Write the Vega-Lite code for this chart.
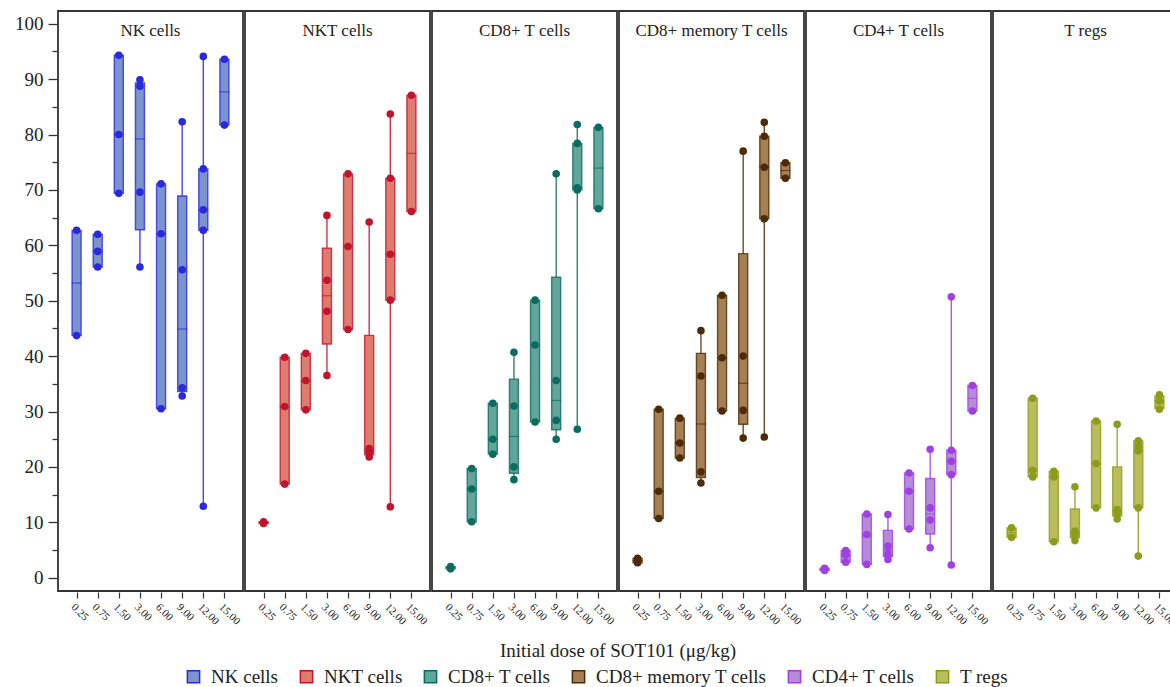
{
  "$schema": "https://vega.github.io/schema/vega-lite/v6.json",
  "background": "white",
  "padding": {"left": 14, "top": 10, "right": 0, "bottom": 0},
  "data": {"values": [
    {"c":"NK cells","d":"0.25","k":"b","lo":43.7,"q1":43.7,"md":53.2,"q3":62.7,"hi":62.7},
    {"c":"NK cells","d":"0.75","k":"b","lo":56.1,"q1":56.1,"md":58.9,"q3":62.0,"hi":62.0},
    {"c":"NK cells","d":"1.50","k":"b","lo":69.4,"q1":69.4,"md":80.0,"q3":94.3,"hi":94.3},
    {"c":"NK cells","d":"3.00","k":"b","lo":56.1,"q1":62.8,"md":79.2,"q3":89.3,"hi":89.9},
    {"c":"NK cells","d":"6.00","k":"b","lo":30.5,"q1":30.5,"md":62.1,"q3":71.1,"hi":71.1},
    {"c":"NK cells","d":"9.00","k":"b","lo":32.8,"q1":33.6,"md":44.9,"q3":68.9,"hi":82.3},
    {"c":"NK cells","d":"12.00","k":"b","lo":12.9,"q1":62.7,"md":66.4,"q3":73.8,"hi":94.1},
    {"c":"NK cells","d":"15.00","k":"b","lo":81.7,"q1":81.7,"md":87.7,"q3":93.6,"hi":93.6},
    {"c":"NKT cells","d":"0.25","k":"b","lo":9.8,"q1":9.8,"md":9.95,"q3":10.1,"hi":10.1},
    {"c":"NKT cells","d":"0.75","k":"b","lo":16.9,"q1":16.9,"md":30.9,"q3":39.8,"hi":39.8},
    {"c":"NKT cells","d":"1.50","k":"b","lo":30.3,"q1":30.3,"md":35.6,"q3":40.5,"hi":40.5},
    {"c":"NKT cells","d":"3.00","k":"b","lo":36.5,"q1":42.2,"md":50.9,"q3":59.5,"hi":65.4},
    {"c":"NKT cells","d":"6.00","k":"b","lo":44.8,"q1":44.8,"md":59.8,"q3":72.9,"hi":72.9},
    {"c":"NKT cells","d":"9.00","k":"b","lo":21.8,"q1":22.2,"md":22.95,"q3":43.75,"hi":64.2},
    {"c":"NKT cells","d":"12.00","k":"b","lo":12.8,"q1":50.1,"md":58.4,"q3":72.1,"hi":83.7},
    {"c":"NKT cells","d":"15.00","k":"b","lo":66.1,"q1":66.1,"md":76.6,"q3":87.1,"hi":87.1},
    {"c":"CD8+ T cells","d":"0.25","k":"b","lo":1.6,"q1":1.6,"md":1.8,"q3":2.0,"hi":2.0},
    {"c":"CD8+ T cells","d":"0.75","k":"b","lo":10.1,"q1":10.1,"md":16.0,"q3":19.7,"hi":19.7},
    {"c":"CD8+ T cells","d":"1.50","k":"b","lo":22.3,"q1":22.3,"md":25.0,"q3":31.5,"hi":31.5},
    {"c":"CD8+ T cells","d":"3.00","k":"b","lo":17.7,"q1":18.85,"md":25.5,"q3":35.85,"hi":40.7},
    {"c":"CD8+ T cells","d":"6.00","k":"b","lo":28.1,"q1":28.1,"md":42.0,"q3":50.1,"hi":50.1},
    {"c":"CD8+ T cells","d":"9.00","k":"b","lo":25.0,"q1":26.7,"md":32.0,"q3":54.25,"hi":72.9},
    {"c":"CD8+ T cells","d":"12.00","k":"b","lo":26.8,"q1":70.0,"md":70.4,"q3":78.4,"hi":81.8},
    {"c":"CD8+ T cells","d":"15.00","k":"b","lo":66.6,"q1":66.6,"md":73.95,"q3":81.3,"hi":81.3},
    {"c":"CD8+ memory T cells","d":"0.25","k":"b","lo":2.7,"q1":2.7,"md":3.1,"q3":3.5,"hi":3.5},
    {"c":"CD8+ memory T cells","d":"0.75","k":"b","lo":10.7,"q1":10.7,"md":15.6,"q3":30.4,"hi":30.4},
    {"c":"CD8+ memory T cells","d":"1.50","k":"b","lo":21.6,"q1":21.6,"md":24.3,"q3":28.8,"hi":28.8},
    {"c":"CD8+ memory T cells","d":"3.00","k":"b","lo":17.1,"q1":18.1,"md":27.75,"q3":40.5,"hi":44.6},
    {"c":"CD8+ memory T cells","d":"6.00","k":"b","lo":30.1,"q1":30.1,"md":39.7,"q3":51.0,"hi":51.0},
    {"c":"CD8+ memory T cells","d":"9.00","k":"b","lo":25.2,"q1":27.7,"md":35.1,"q3":58.5,"hi":77.0},
    {"c":"CD8+ memory T cells","d":"12.00","k":"b","lo":25.4,"q1":64.8,"md":74.1,"q3":79.7,"hi":82.2},
    {"c":"CD8+ memory T cells","d":"15.00","k":"b","lo":72.1,"q1":72.1,"md":73.5,"q3":74.9,"hi":74.9},
    {"c":"CD4+ T cells","d":"0.25","k":"b","lo":1.3,"q1":1.3,"md":1.5,"q3":1.7,"hi":1.7},
    {"c":"CD4+ T cells","d":"0.75","k":"b","lo":2.8,"q1":2.8,"md":4.1,"q3":4.9,"hi":4.9},
    {"c":"CD4+ T cells","d":"1.50","k":"b","lo":2.4,"q1":2.4,"md":7.8,"q3":11.5,"hi":11.5},
    {"c":"CD4+ T cells","d":"3.00","k":"b","lo":3.3,"q1":3.8,"md":5.0,"q3":8.55,"hi":11.4},
    {"c":"CD4+ T cells","d":"6.00","k":"b","lo":8.8,"q1":8.8,"md":15.6,"q3":18.9,"hi":18.9},
    {"c":"CD4+ T cells","d":"9.00","k":"b","lo":5.4,"q1":7.9,"md":11.5,"q3":17.9,"hi":23.2},
    {"c":"CD4+ T cells","d":"12.00","k":"b","lo":2.3,"q1":18.6,"md":21.0,"q3":23.0,"hi":50.7},
    {"c":"CD4+ T cells","d":"15.00","k":"b","lo":30.1,"q1":30.1,"md":32.4,"q3":34.7,"hi":34.7},
    {"c":"T regs","d":"0.25","k":"b","lo":7.3,"q1":7.3,"md":8.15,"q3":9.0,"hi":9.0},
    {"c":"T regs","d":"0.75","k":"b","lo":18.2,"q1":18.2,"md":19.4,"q3":32.4,"hi":32.4},
    {"c":"T regs","d":"1.50","k":"b","lo":6.5,"q1":6.5,"md":18.2,"q3":19.2,"hi":19.2},
    {"c":"T regs","d":"3.00","k":"b","lo":6.7,"q1":7.2,"md":8.05,"q3":12.4,"hi":16.4},
    {"c":"T regs","d":"6.00","k":"b","lo":12.6,"q1":12.6,"md":20.6,"q3":28.3,"hi":28.3},
    {"c":"T regs","d":"9.00","k":"b","lo":10.6,"q1":11.15,"md":12.0,"q3":20.0,"hi":27.7},
    {"c":"T regs","d":"12.00","k":"b","lo":3.9,"q1":12.6,"md":22.9,"q3":24.7,"hi":24.7},
    {"c":"T regs","d":"15.00","k":"b","lo":30.4,"q1":30.6,"md":31.9,"q3":32.8,"hi":33.0},

    {"c":"NK cells","d":"0.25","k":"p","v":62.7},{"c":"NK cells","d":"0.25","k":"p","v":43.7},
    {"c":"NK cells","d":"0.75","k":"p","v":62.0},{"c":"NK cells","d":"0.75","k":"p","v":58.9},{"c":"NK cells","d":"0.75","k":"p","v":56.1},
    {"c":"NK cells","d":"1.50","k":"p","v":94.3},{"c":"NK cells","d":"1.50","k":"p","v":80.0},{"c":"NK cells","d":"1.50","k":"p","v":69.4},
    {"c":"NK cells","d":"3.00","k":"p","v":89.9},{"c":"NK cells","d":"3.00","k":"p","v":88.7},{"c":"NK cells","d":"3.00","k":"p","v":69.6},{"c":"NK cells","d":"3.00","k":"p","v":56.1},
    {"c":"NK cells","d":"6.00","k":"p","v":71.1},{"c":"NK cells","d":"6.00","k":"p","v":62.1},{"c":"NK cells","d":"6.00","k":"p","v":30.5},
    {"c":"NK cells","d":"9.00","k":"p","v":82.3},{"c":"NK cells","d":"9.00","k":"p","v":55.6},{"c":"NK cells","d":"9.00","k":"p","v":34.3},{"c":"NK cells","d":"9.00","k":"p","v":32.8},
    {"c":"NK cells","d":"12.00","k":"p","v":94.1},{"c":"NK cells","d":"12.00","k":"p","v":73.8},{"c":"NK cells","d":"12.00","k":"p","v":66.4},{"c":"NK cells","d":"12.00","k":"p","v":62.7},{"c":"NK cells","d":"12.00","k":"p","v":12.9},
    {"c":"NK cells","d":"15.00","k":"p","v":93.6},{"c":"NK cells","d":"15.00","k":"p","v":81.7},

    {"c":"NKT cells","d":"0.25","k":"p","v":10.1},{"c":"NKT cells","d":"0.25","k":"p","v":9.8},
    {"c":"NKT cells","d":"0.75","k":"p","v":39.8},{"c":"NKT cells","d":"0.75","k":"p","v":30.9},{"c":"NKT cells","d":"0.75","k":"p","v":16.9},
    {"c":"NKT cells","d":"1.50","k":"p","v":40.5},{"c":"NKT cells","d":"1.50","k":"p","v":35.6},{"c":"NKT cells","d":"1.50","k":"p","v":30.3},
    {"c":"NKT cells","d":"3.00","k":"p","v":65.4},{"c":"NKT cells","d":"3.00","k":"p","v":53.7},{"c":"NKT cells","d":"3.00","k":"p","v":48.1},{"c":"NKT cells","d":"3.00","k":"p","v":36.5},
    {"c":"NKT cells","d":"6.00","k":"p","v":72.9},{"c":"NKT cells","d":"6.00","k":"p","v":59.8},{"c":"NKT cells","d":"6.00","k":"p","v":44.8},
    {"c":"NKT cells","d":"9.00","k":"p","v":64.2},{"c":"NKT cells","d":"9.00","k":"p","v":23.3},{"c":"NKT cells","d":"9.00","k":"p","v":22.6},{"c":"NKT cells","d":"9.00","k":"p","v":21.8},
    {"c":"NKT cells","d":"12.00","k":"p","v":83.7},{"c":"NKT cells","d":"12.00","k":"p","v":72.1},{"c":"NKT cells","d":"12.00","k":"p","v":58.4},{"c":"NKT cells","d":"12.00","k":"p","v":50.1},{"c":"NKT cells","d":"12.00","k":"p","v":12.8},
    {"c":"NKT cells","d":"15.00","k":"p","v":87.1},{"c":"NKT cells","d":"15.00","k":"p","v":66.1},

    {"c":"CD8+ T cells","d":"0.25","k":"p","v":2.0},{"c":"CD8+ T cells","d":"0.25","k":"p","v":1.6},
    {"c":"CD8+ T cells","d":"0.75","k":"p","v":19.7},{"c":"CD8+ T cells","d":"0.75","k":"p","v":16.0},{"c":"CD8+ T cells","d":"0.75","k":"p","v":10.1},
    {"c":"CD8+ T cells","d":"1.50","k":"p","v":31.5},{"c":"CD8+ T cells","d":"1.50","k":"p","v":25.0},{"c":"CD8+ T cells","d":"1.50","k":"p","v":22.3},
    {"c":"CD8+ T cells","d":"3.00","k":"p","v":40.7},{"c":"CD8+ T cells","d":"3.00","k":"p","v":31.0},{"c":"CD8+ T cells","d":"3.00","k":"p","v":20.0},{"c":"CD8+ T cells","d":"3.00","k":"p","v":17.7},
    {"c":"CD8+ T cells","d":"6.00","k":"p","v":50.1},{"c":"CD8+ T cells","d":"6.00","k":"p","v":42.0},{"c":"CD8+ T cells","d":"6.00","k":"p","v":28.1},
    {"c":"CD8+ T cells","d":"9.00","k":"p","v":72.9},{"c":"CD8+ T cells","d":"9.00","k":"p","v":35.6},{"c":"CD8+ T cells","d":"9.00","k":"p","v":28.4},{"c":"CD8+ T cells","d":"9.00","k":"p","v":25.0},
    {"c":"CD8+ T cells","d":"12.00","k":"p","v":81.8},{"c":"CD8+ T cells","d":"12.00","k":"p","v":78.4},{"c":"CD8+ T cells","d":"12.00","k":"p","v":70.4},{"c":"CD8+ T cells","d":"12.00","k":"p","v":70.0},{"c":"CD8+ T cells","d":"12.00","k":"p","v":26.8},
    {"c":"CD8+ T cells","d":"15.00","k":"p","v":81.3},{"c":"CD8+ T cells","d":"15.00","k":"p","v":66.6},

    {"c":"CD8+ memory T cells","d":"0.25","k":"p","v":3.5},{"c":"CD8+ memory T cells","d":"0.25","k":"p","v":2.7},
    {"c":"CD8+ memory T cells","d":"0.75","k":"p","v":30.4},{"c":"CD8+ memory T cells","d":"0.75","k":"p","v":15.6},{"c":"CD8+ memory T cells","d":"0.75","k":"p","v":10.7},
    {"c":"CD8+ memory T cells","d":"1.50","k":"p","v":28.8},{"c":"CD8+ memory T cells","d":"1.50","k":"p","v":24.3},{"c":"CD8+ memory T cells","d":"1.50","k":"p","v":21.6},
    {"c":"CD8+ memory T cells","d":"3.00","k":"p","v":44.6},{"c":"CD8+ memory T cells","d":"3.00","k":"p","v":36.4},{"c":"CD8+ memory T cells","d":"3.00","k":"p","v":19.1},{"c":"CD8+ memory T cells","d":"3.00","k":"p","v":17.1},
    {"c":"CD8+ memory T cells","d":"6.00","k":"p","v":51.0},{"c":"CD8+ memory T cells","d":"6.00","k":"p","v":39.7},{"c":"CD8+ memory T cells","d":"6.00","k":"p","v":30.1},
    {"c":"CD8+ memory T cells","d":"9.00","k":"p","v":77.0},{"c":"CD8+ memory T cells","d":"9.00","k":"p","v":40.0},{"c":"CD8+ memory T cells","d":"9.00","k":"p","v":30.2},{"c":"CD8+ memory T cells","d":"9.00","k":"p","v":25.2},
    {"c":"CD8+ memory T cells","d":"12.00","k":"p","v":82.2},{"c":"CD8+ memory T cells","d":"12.00","k":"p","v":79.7},{"c":"CD8+ memory T cells","d":"12.00","k":"p","v":74.1},{"c":"CD8+ memory T cells","d":"12.00","k":"p","v":64.8},{"c":"CD8+ memory T cells","d":"12.00","k":"p","v":25.4},
    {"c":"CD8+ memory T cells","d":"15.00","k":"p","v":74.9},{"c":"CD8+ memory T cells","d":"15.00","k":"p","v":72.1},

    {"c":"CD4+ T cells","d":"0.25","k":"p","v":1.7},{"c":"CD4+ T cells","d":"0.25","k":"p","v":1.3},
    {"c":"CD4+ T cells","d":"0.75","k":"p","v":4.9},{"c":"CD4+ T cells","d":"0.75","k":"p","v":4.1},{"c":"CD4+ T cells","d":"0.75","k":"p","v":2.8},
    {"c":"CD4+ T cells","d":"1.50","k":"p","v":11.5},{"c":"CD4+ T cells","d":"1.50","k":"p","v":7.8},{"c":"CD4+ T cells","d":"1.50","k":"p","v":2.4},
    {"c":"CD4+ T cells","d":"3.00","k":"p","v":11.4},{"c":"CD4+ T cells","d":"3.00","k":"p","v":5.7},{"c":"CD4+ T cells","d":"3.00","k":"p","v":4.3},{"c":"CD4+ T cells","d":"3.00","k":"p","v":3.3},
    {"c":"CD4+ T cells","d":"6.00","k":"p","v":18.9},{"c":"CD4+ T cells","d":"6.00","k":"p","v":15.6},{"c":"CD4+ T cells","d":"6.00","k":"p","v":8.8},
    {"c":"CD4+ T cells","d":"9.00","k":"p","v":23.2},{"c":"CD4+ T cells","d":"9.00","k":"p","v":12.6},{"c":"CD4+ T cells","d":"9.00","k":"p","v":10.4},{"c":"CD4+ T cells","d":"9.00","k":"p","v":5.4},
    {"c":"CD4+ T cells","d":"12.00","k":"p","v":50.7},{"c":"CD4+ T cells","d":"12.00","k":"p","v":23.0},{"c":"CD4+ T cells","d":"12.00","k":"p","v":21.0},{"c":"CD4+ T cells","d":"12.00","k":"p","v":18.6},{"c":"CD4+ T cells","d":"12.00","k":"p","v":2.3},
    {"c":"CD4+ T cells","d":"15.00","k":"p","v":34.7},{"c":"CD4+ T cells","d":"15.00","k":"p","v":30.1},

    {"c":"T regs","d":"0.25","k":"p","v":9.0},{"c":"T regs","d":"0.25","k":"p","v":7.3},
    {"c":"T regs","d":"0.75","k":"p","v":32.4},{"c":"T regs","d":"0.75","k":"p","v":19.4},{"c":"T regs","d":"0.75","k":"p","v":18.2},
    {"c":"T regs","d":"1.50","k":"p","v":19.2},{"c":"T regs","d":"1.50","k":"p","v":18.2},{"c":"T regs","d":"1.50","k":"p","v":6.5},
    {"c":"T regs","d":"3.00","k":"p","v":16.4},{"c":"T regs","d":"3.00","k":"p","v":8.4},{"c":"T regs","d":"3.00","k":"p","v":7.7},{"c":"T regs","d":"3.00","k":"p","v":6.7},
    {"c":"T regs","d":"6.00","k":"p","v":28.3},{"c":"T regs","d":"6.00","k":"p","v":20.6},{"c":"T regs","d":"6.00","k":"p","v":12.6},
    {"c":"T regs","d":"9.00","k":"p","v":27.7},{"c":"T regs","d":"9.00","k":"p","v":12.3},{"c":"T regs","d":"9.00","k":"p","v":11.7},{"c":"T regs","d":"9.00","k":"p","v":10.6},
    {"c":"T regs","d":"12.00","k":"p","v":24.7},{"c":"T regs","d":"12.00","k":"p","v":23.8},{"c":"T regs","d":"12.00","k":"p","v":22.9},{"c":"T regs","d":"12.00","k":"p","v":12.6},{"c":"T regs","d":"12.00","k":"p","v":3.9},
    {"c":"T regs","d":"15.00","k":"p","v":33.0},{"c":"T regs","d":"15.00","k":"p","v":31.9},{"c":"T regs","d":"15.00","k":"p","v":30.4}
  ]},
  "facet": {
    "column": {
      "field": "c", "type": "nominal",
      "sort": ["NK cells","NKT cells","CD8+ T cells","CD8+ memory T cells","CD4+ T cells","T regs"],
      "title": "Initial dose of SOT101 (μg/kg)",
      "header": {
        "titleOrient": "bottom", "labelOrient": "top", "labelPadding": -30,
        "labelFont": "Liberation Serif", "labelFontSize": 17, "labelColor": "#222",
        "titleFont": "Liberation Serif", "titleFontSize": 19, "titleFontWeight": "normal", "titleColor": "#222", "titlePadding": 5
      }
    }
  },
  "spacing": 0,
  "spec": {
    "width": 185,
    "height": 580,
    "encoding": {
      "x": {
        "field": "d", "type": "ordinal",
        "sort": ["0.25","0.75","1.50","3.00","6.00","9.00","12.00","15.00"],
        "scale": {"type": "point", "padding": 0.88},
        "axis": {"title": null, "labelAngle": 45, "labelFontSize": 11, "labelFont": "Liberation Serif", "labelColor": "#222", "tickSize": 6, "tickColor": "#333", "tickWidth": 1.2, "domain": false, "labelPadding": 3}
      },
      "stroke": {"field": "c", "type": "nominal",
        "scale": {"domain": ["NK cells","NKT cells","CD8+ T cells","CD8+ memory T cells","CD4+ T cells","T regs"],
          "range": ["#2828DE","#C1142C","#0A6C5E","#4E2A04","#9E40E2","#8C9C1A"]}}
    },
    "layer": [
      {
        "transform": [{"filter": "datum.k === 'b'"}],
        "mark": {"type": "rule", "strokeWidth": 1.4, "strokeOpacity": 0.85},
        "encoding": {
          "y": {"field": "lo", "type": "quantitative",
            "scale": {"domain": [-2.4, 102.3], "nice": false, "zero": false},
            "axis": {"title": null, "values": [0,5,10,15,20,25,30,35,40,45,50,55,60,65,70,75,80,85,90,95,100],
              "labelExpr": "datum.value % 10 === 0 ? datum.label : ''",
              "tickSize": 9,
              "tickDash": {"condition": {"test": "datum.value % 10 !== 0", "value": [5, 100]}, "value": [20, 0]},
              "tickColor": "#333", "tickWidth": 1.3, "domain": false, "grid": false,
              "labelFont": "Liberation Serif", "labelFontSize": 19, "labelColor": "#222", "labelPadding": 5}},
          "y2": {"field": "hi"}
        }
      },
      {
        "transform": [{"filter": "datum.k === 'b'"}],
        "mark": {"type": "bar", "size": 9, "strokeWidth": 1.4, "strokeOpacity": 0.8},
        "encoding": {
          "y": {"field": "q1", "type": "quantitative",
            "axis": {"title": null, "values": [0,5,10,15,20,25,30,35,40,45,50,55,60,65,70,75,80,85,90,95,100],
              "labelExpr": "datum.value % 10 === 0 ? datum.label : ''",
              "tickSize": 9,
              "tickDash": {"condition": {"test": "datum.value % 10 !== 0", "value": [5, 100]}, "value": [20, 0]},
              "tickColor": "#333", "tickWidth": 1.3, "domain": false, "grid": false,
              "labelFont": "Liberation Serif", "labelFontSize": 19, "labelColor": "#222", "labelPadding": 5}},
          "y2": {"field": "q3"},
          "fill": {"field": "c", "type": "nominal",
            "scale": {"domain": ["NK cells","NKT cells","CD8+ T cells","CD8+ memory T cells","CD4+ T cells","T regs"],
              "range": ["#7C94CD","#E07C6D","#62A59B","#A67F53","#B68CD6","#B9BD5B"]}}
        }
      },
      {
        "transform": [{"filter": "datum.k === 'b'"}],
        "mark": {"type": "tick", "size": 9, "thickness": 0.1, "filled": false, "strokeWidth": 1.1},
        "encoding": {
          "y": {"field": "md", "type": "quantitative",
            "axis": {"title": null, "values": [0,5,10,15,20,25,30,35,40,45,50,55,60,65,70,75,80,85,90,95,100],
              "labelExpr": "datum.value % 10 === 0 ? datum.label : ''",
              "tickSize": 9,
              "tickDash": {"condition": {"test": "datum.value % 10 !== 0", "value": [5, 100]}, "value": [20, 0]},
              "tickColor": "#333", "tickWidth": 1.3, "domain": false, "grid": false,
              "labelFont": "Liberation Serif", "labelFontSize": 19, "labelColor": "#222", "labelPadding": 5}}
        }
      },
      {
        "transform": [{"filter": "datum.k === 'p'"}],
        "mark": {"type": "circle", "size": 13, "filled": false, "strokeWidth": 4, "opacity": 1},
        "encoding": {
          "y": {"field": "v", "type": "quantitative",
            "axis": {"title": null, "values": [0,5,10,15,20,25,30,35,40,45,50,55,60,65,70,75,80,85,90,95,100],
              "labelExpr": "datum.value % 10 === 0 ? datum.label : ''",
              "tickSize": 9,
              "tickDash": {"condition": {"test": "datum.value % 10 !== 0", "value": [5, 100]}, "value": [20, 0]},
              "tickColor": "#333", "tickWidth": 1.3, "domain": false, "grid": false,
              "labelFont": "Liberation Serif", "labelFontSize": 19, "labelColor": "#222", "labelPadding": 5}}
        }
      }
    ]
  },
  "config": {
    "font": "Liberation Serif",
    "view": {"stroke": "#333", "strokeWidth": 1.8},
    "legend": {
      "orient": "bottom", "direction": "horizontal", "title": null,
      "labelFont": "Liberation Serif", "labelFontSize": 19, "labelColor": "#222", "labelLimit": 400,
      "symbolType": "square", "symbolSize": 150, "symbolStrokeWidth": 1.5,
      "columnPadding": 18, "labelOffset": 8, "offset": 6,
      "layout": {"bottom": {"anchor": "middle"}}
    }
  }
}
